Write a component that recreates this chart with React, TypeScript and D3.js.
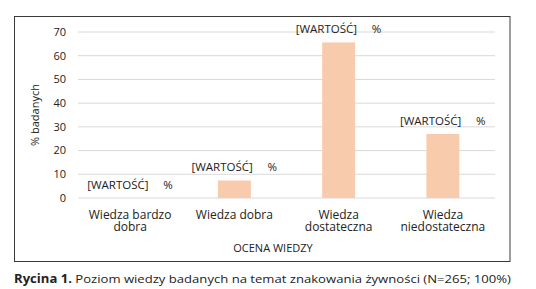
import React from "react";
import * as d3 from "d3";

const categories = [["Wiedza bardzo", "dobra"], ["Wiedza dobra"], ["Wiedza", "dostateczna"], ["Wiedza", "niedostateczna"]];
const values = [0, 7.4, 65.6, 27.0];
const yTicks = [0, 10, 20, 30, 40, 50, 60, 70];

export default function App() {
  const W = 536, H = 289;
  const x = d3.scaleBand<number>().domain(d3.range(categories.length)).range([78, 495]).paddingInner(0.684).paddingOuter(0.342);
  const y = d3.scaleLinear().domain([0, 70]).range([198, 32]);
  const font = "'Open Sans', sans-serif";
  return (
    <svg width={W} height={H} style={{ position: "absolute", left: 0, top: 0, background: "#fff" }} fontFamily={font}>
      <rect x={14.5} y={16.5} width={495.5} height={245} fill="#fff" stroke="#3a3a3a" strokeWidth={1} />
      {yTicks.map((t) => (
        <g key={t}>
          <line x1={78} x2={495} y1={y(t)} y2={y(t)} stroke="#d9d9d9" strokeWidth={1} />
          <text x={66} y={y(t)} dy="0.35em" textAnchor="end" fontSize={11} fill="#222">{t}</text>
        </g>
      ))}
      {values.map((v, i) => (
        <rect key={i} x={x(i)} y={y(v)} width={x.bandwidth()} height={y(0) - y(v)} fill="#f8cbad" />
      ))}
      {values.map((v, i) => {
        const cx = (x(i) as number) + x.bandwidth() / 2;
        return (
          <text key={i} y={y(v) - 9} fontSize={11.5} fill="#222">
            <tspan x={cx - 43}>[WARTOŚĆ]</tspan>
            <tspan x={cx + 33}>%</tspan>
          </text>
        );
      })}
      {categories.map((lines, i) => {
        const cx = (x(i) as number) + x.bandwidth() / 2;
        return lines.map((l, j) => (
          <text key={i + "-" + j} x={cx} y={219 + j * 12} textAnchor="middle" fontSize={12} fill="#222">{l}</text>
        ));
      })}
      <text x={273} y={252} textAnchor="middle" fontSize={11} fill="#222">OCENA WIEDZY</text>
      <text transform="translate(39,115) rotate(-90)" textAnchor="middle" fontSize={11} fill="#222">% badanych</text>
      <text x={14} y={283} fontSize={11.5} fill="#222" textLength={497} lengthAdjust="spacingAndGlyphs">
        <tspan fontWeight="bold">Rycina 1.</tspan> Poziom wiedzy badanych na temat znakowania żywności (N=265; 100%)
      </text>
    </svg>
  );
}
